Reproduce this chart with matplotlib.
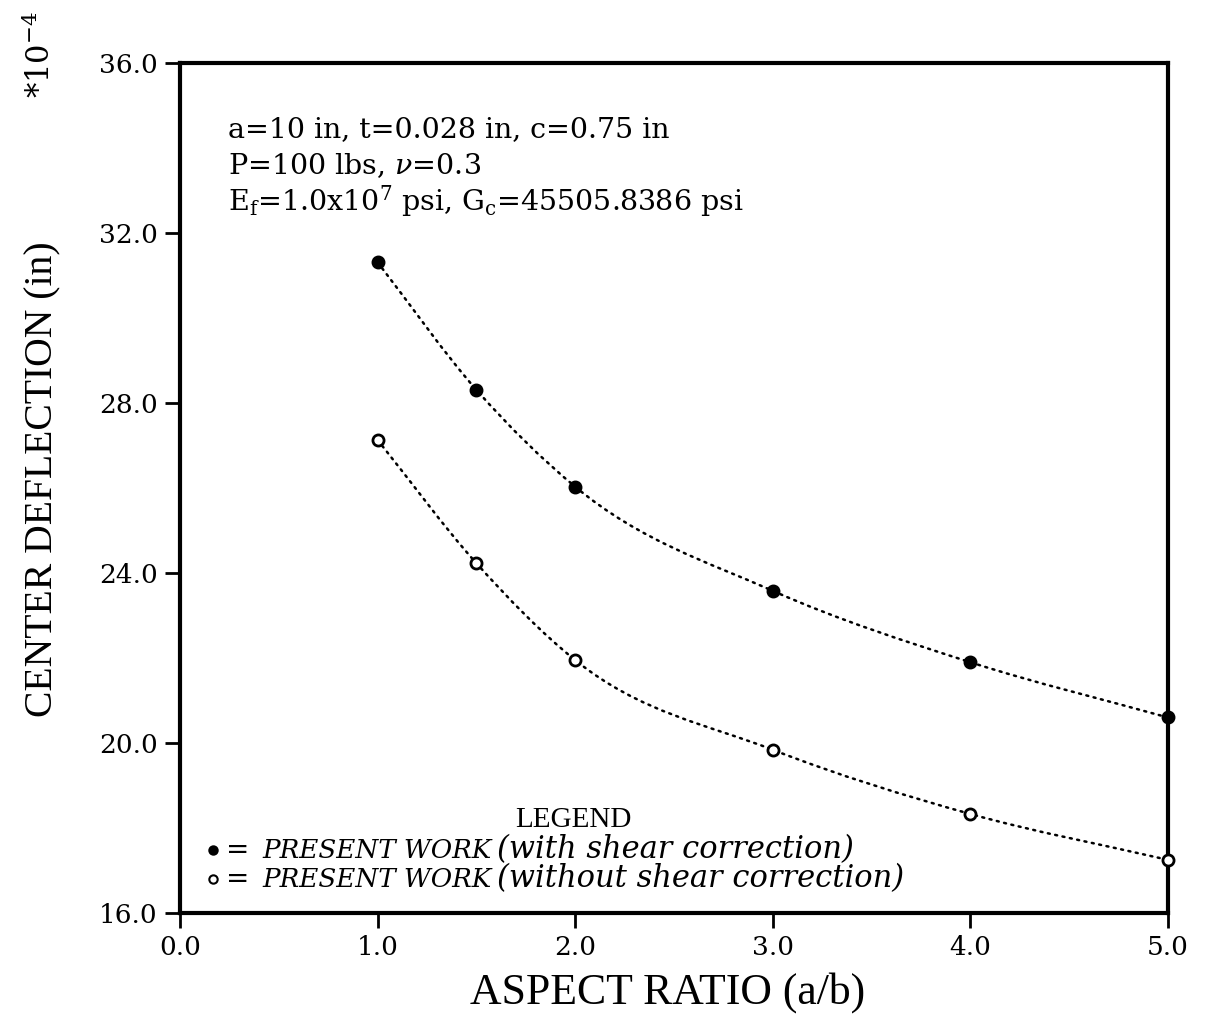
import numpy as np
import matplotlib.pyplot as plt
from matplotlib.path import Path
from matplotlib.patches import PathPatch
from matplotlib.lines import Line2D

plt.rcParams['mathtext.fontset'] = 'dejavuserif'

# aspect ratio a/b and centre deflection (units of 1e-4 in)
ratio = [1.0, 1.5, 2.0, 3.0, 4.0, 5.0]
with_shear = [31.31, 28.31, 26.03, 23.58, 21.90, 20.60]
without_shear = [27.13, 24.23, 21.95, 19.84, 18.33, 17.25]

xticks = [0.0, 1.0, 2.0, 3.0, 4.0, 5.0]
yticks = [16.0, 20.0, 24.0, 28.0, 32.0, 36.0]


def smooth_path(x, y):
    # cubic Hermite through the points, written as Bezier segments
    x = np.asarray(x, float)
    y = np.asarray(y, float)
    m = np.gradient(y, x)
    verts = [(x[0], y[0])]
    codes = [Path.MOVETO]
    for i in range(len(x) - 1):
        h = x[i + 1] - x[i]
        verts += [(x[i] + h / 3, y[i] + m[i] * h / 3),
                  (x[i + 1] - h / 3, y[i + 1] - m[i + 1] * h / 3),
                  (x[i + 1], y[i + 1])]
        codes += [Path.CURVE4] * 3
    return Path(verts, codes)


fig = plt.figure(figsize=(12.11, 10.18), dpi=100)
ax = fig.add_axes([180 / 1211, 105 / 1018, 988 / 1211, 850 / 1018])

for ys, face in [(with_shear, 'black'), (without_shear, 'white')]:
    ax.add_patch(PathPatch(smooth_path(ratio, ys), fill=False, color='black',
                           lw=1.8, linestyle=(0, (0.8, 2.2)), capstyle='round'))
    ax.plot(ratio, ys, linestyle='none', marker='o', ms=8, mfc=face,
            mec='black', mew=2.0, clip_on=False, zorder=5)

ax.set_xlim(0, 5)
ax.set_ylim(16, 36)
ax.set_xticks(xticks)
ax.set_yticks(yticks)
ax.set_xticklabels([f'{v:.1f}' for v in xticks], family='DejaVu Serif', fontsize=19)
ax.set_yticklabels([f'{v:.1f}' for v in yticks], family='DejaVu Serif', fontsize=19)
ax.tick_params(direction='out', length=11, width=2, pad=5, colors='black')
for s in ax.spines.values():
    s.set_linewidth(3)

ax.set_xlabel('ASPECT RATIO (a/b)', family='Liberation Serif', fontsize=31.5)
ax.xaxis.set_label_coords(0.493, -0.07)
ax.set_ylabel('CENTER DEFLECTION (in)', family='Liberation Serif', fontsize=28.5)
ax.yaxis.set_label_coords(-0.12, 0.51)
fig.text(40 / 1211, 1 - 55 / 1018, r'$*10^{-4}$', rotation=90, fontsize=22,
         ha='center', va='center')

params = ['a=10 in, t=0.028 in, c=0.75 in',
          r'P=100 lbs, $\nu$=0.3',
          r'E$_\mathregular{f}$=1.0x10$^\mathregular{7}$ psi, '
          r'G$_\mathregular{c}$=45505.8386 psi']
for i, line in enumerate(params):
    ax.text(0.245, 34.26 - i * 0.87, line, family='DejaVu Serif', fontsize=20.5,
            va='baseline')

# legend block
ax.text(1.99, 18.02, 'LEGEND', family='Liberation Serif', fontsize=21,
        ha='center', va='baseline')
labels = ['(with shear correction)', '(without shear correction)']
faces = ['black', 'white']
for i, (lab, face) in enumerate(zip(labels, faces)):
    yb = 17.29 - i * 0.68
    ax.add_line(Line2D([0.167], [yb + 0.2], marker='o', ms=6, mfc=face,
                       mec='black', mew=1.5))
    ax.text(0.235, yb, '=', family='DejaVu Serif', fontsize=20, va='baseline')
    ax.text(0.415, yb, 'PRESENT WORK', family='DejaVu Serif', style='italic',
            fontsize=18.8, va='baseline')
    ax.text(1.604, yb, lab, family='DejaVu Serif', style='italic', fontsize=22,
            va='baseline')

fig.savefig('out.png', dpi=100)
